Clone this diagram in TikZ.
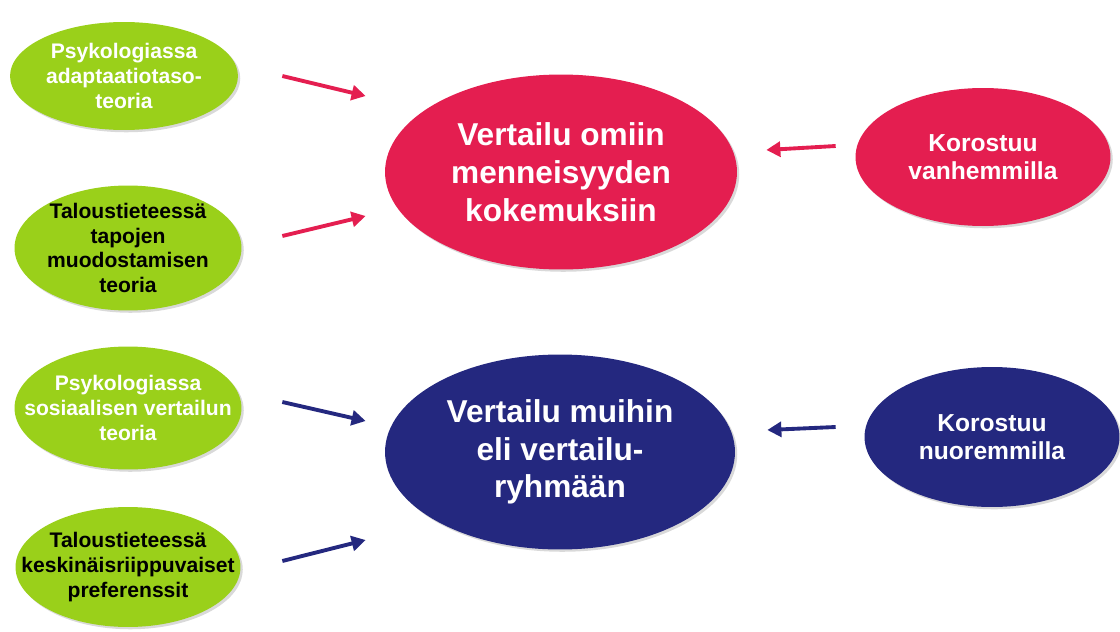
\documentclass[tikz,border=0pt]{standalone}
\usepackage{fontspec}
\setmainfont{Liberation Sans}
\usetikzlibrary{shapes.geometric,shadows,arrows.meta}

\definecolor{leafgreen}{RGB}{154,208,26}
\definecolor{cherry}{RGB}{228,30,80}
\definecolor{ink}{RGB}{36,40,127}

\tikzset{
  blob/.style={ellipse, inner sep=0pt, drop shadow={shadow xshift=1.3pt, shadow yshift=-1.3pt, opacity=0.3}},
  theorytext/.style={font=\bfseries\fontsize{12}{14}\selectfont, align=center},
  maintext/.style={font=\bfseries\fontsize{18}{21.5}\selectfont, align=center, text=white},
  agetext/.style={font=\bfseries\fontsize{14}{16}\selectfont, align=center, text=white},
  pointer/.style={line width=2.2pt, -{Triangle[length=8pt,width=8.5pt]}}
}

\begin{document}
\begin{tikzpicture}[x=0.02cm, y=-0.02cm]

\useasboundingbox (0,0) rectangle (1120,632);

\node[blob, fill=leafgreen, minimum width=4.56cm, minimum height=2.16cm] (g1) at (124,76) {};
\node[theorytext, text=white] (g1t) at (g1) {Psykologiassa\\adaptaatiotaso-\\teoria};

\node[blob, fill=leafgreen, minimum width=4.54cm, minimum height=2.5cm] (g2) at (128,248) {};
\node[theorytext, text=black] (g2t) at (g2) {Taloustieteessä\\tapojen\\muodostamisen\\teoria};

\node[blob, fill=leafgreen, minimum width=4.54cm, minimum height=2.46cm] (g3) at (128,408) {};
\node[theorytext, text=white] (g3t) at (g3) {Psykologiassa\\sosiaalisen vertailun\\teoria};

\node[blob, fill=leafgreen, minimum width=4.5cm, minimum height=2.4cm] (g4) at (128,567) {};
\node[theorytext, text=black] (g4t) at (g4) {Taloustieteessä\\keskinäisriippuvaiset\\preferenssit};

\node[blob, fill=cherry, minimum width=7.04cm, minimum height=3.9cm] (own) at (561,172) {};
\node[maintext] (ownt) at (own) {Vertailu omiin\\menneisyyden\\kokemuksiin};

\node[blob, fill=ink, minimum width=7cm, minimum height=3.9cm] (others) at (560,452) {};
\node[maintext] (otherst) at (others) {Vertailu muihin\\eli vertailu-\\ryhmään};

\node[blob, fill=cherry, minimum width=5.1cm, minimum height=2.76cm] (old) at (983,157) {};
\node[agetext] (oldt) at (old) {Korostuu\\vanhemmilla};

\node[blob, fill=ink, minimum width=5.1cm, minimum height=2.8cm] (young) at (992,437) {};
\node[agetext] (youngt) at (young) {Korostuu\\nuoremmilla};

\coordinate (g1out) at ([shift={(44,0)}]g1.east);
\coordinate (g2out) at ([shift={(40.5,-12)}]g2.east);
\coordinate (g3out) at ([shift={(40.5,-6)}]g3.east);
\coordinate (g4out) at ([shift={(41.5,-6)}]g4.east);
\coordinate (ownin1) at ([shift={(-19,-76)}]own.west);
\coordinate (ownin2) at ([shift={(-19,44)}]own.west);
\coordinate (ownin3) at ([shift={(29,-22)}]own.east);
\coordinate (othersin1) at ([shift={(-19,-31)}]others.west);
\coordinate (othersin2) at ([shift={(-19,88)}]others.west);
\coordinate (othersin3) at ([shift={(32,-22)}]others.east);
\coordinate (oldout) at ([shift={(-19.5,-11)}]old.west);
\coordinate (youngout) at ([shift={(-28.5,-10)}]young.west);

\draw[pointer, cherry] (g1out) -- (ownin1);
\draw[pointer, cherry] (g2out) -- (ownin2);
\draw[pointer, cherry] (oldout) -- (ownin3);
\draw[pointer, ink] (g3out) -- (othersin1);
\draw[pointer, ink] (g4out) -- (othersin2);
\draw[pointer, ink] (youngout) -- (othersin3);

\end{tikzpicture}
\end{document}
